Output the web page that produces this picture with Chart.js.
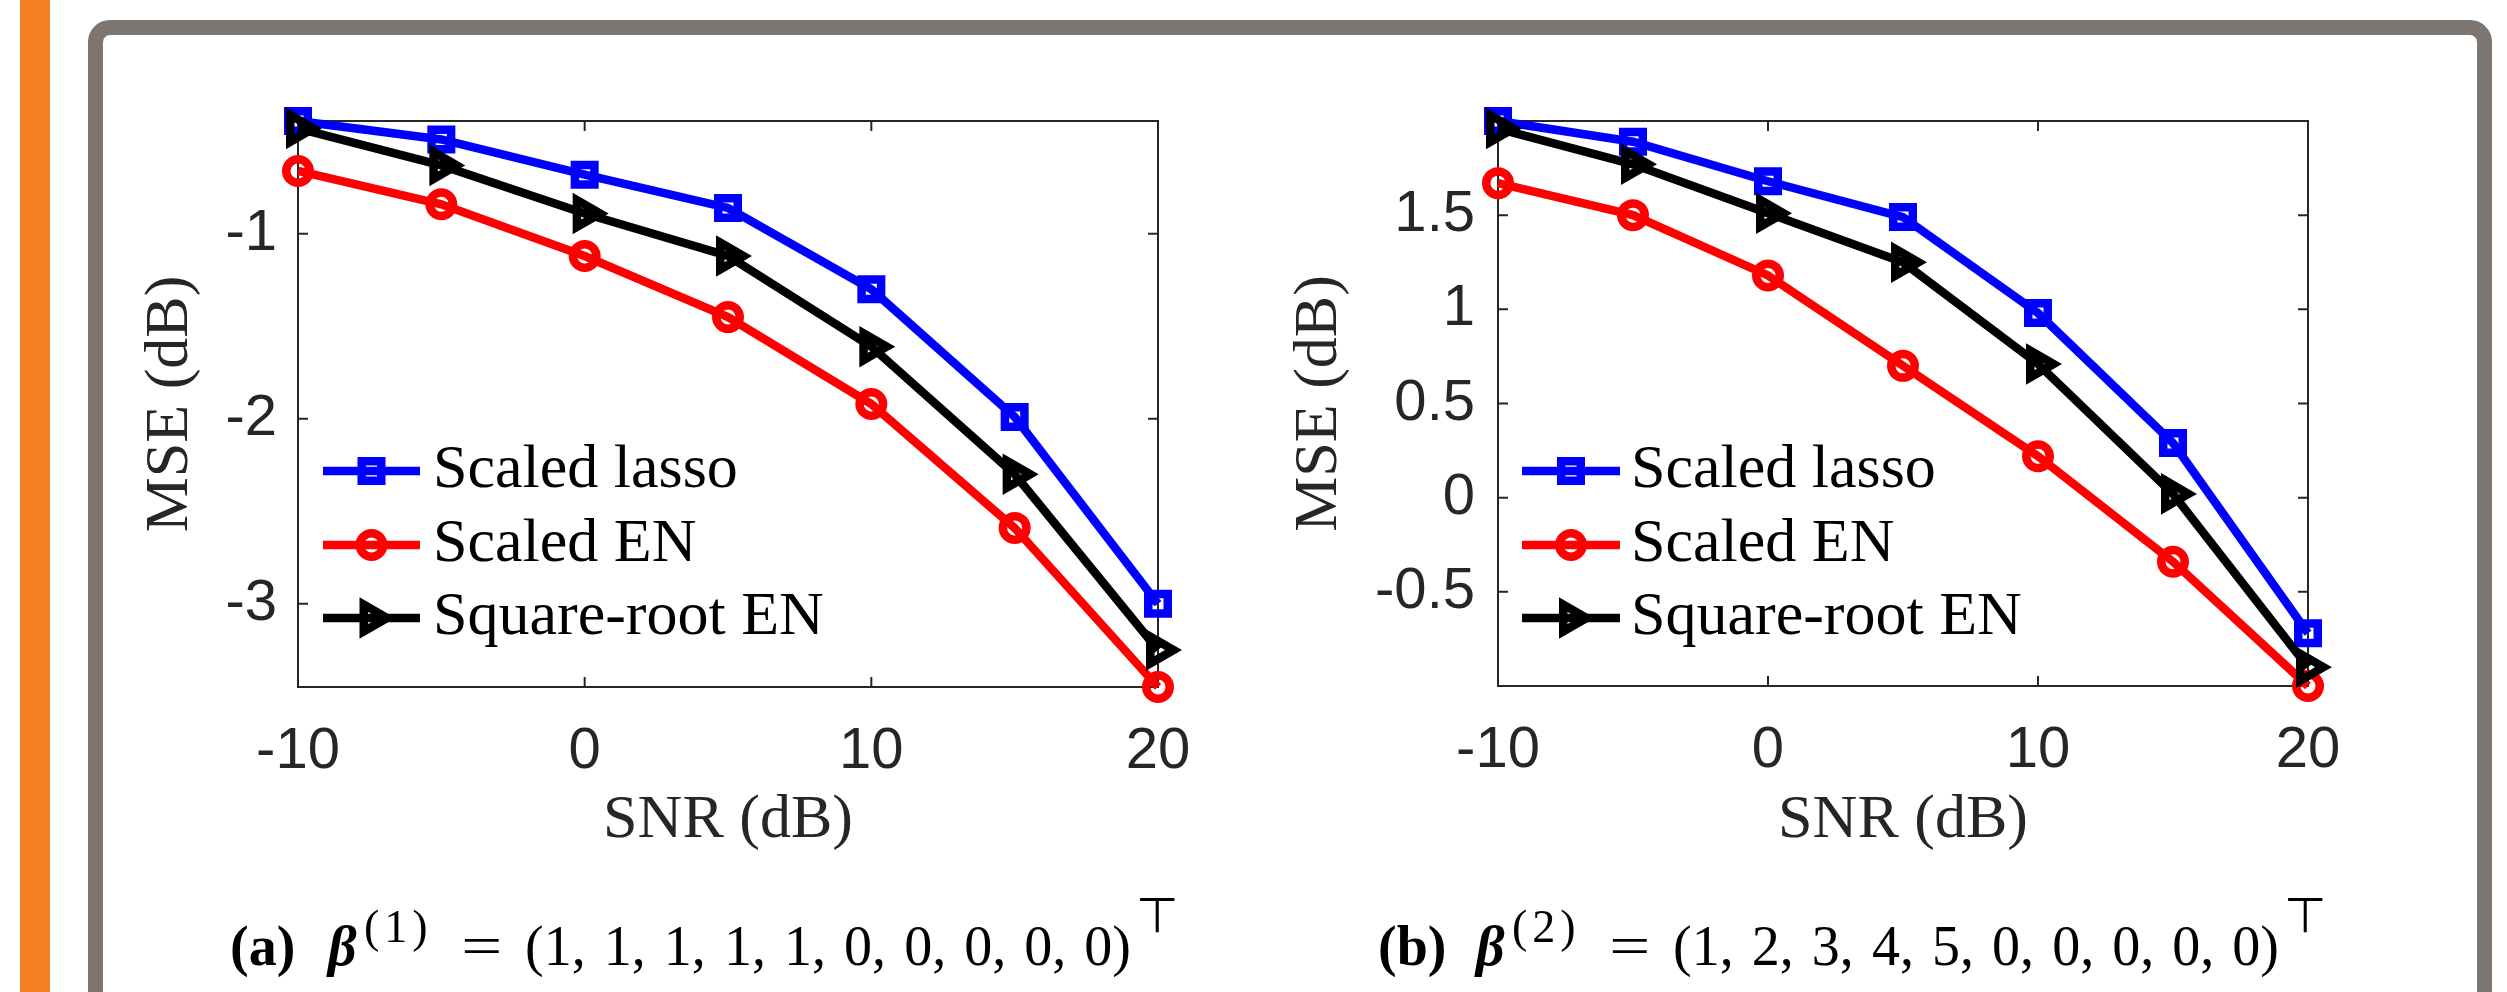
<!DOCTYPE html>
<html><head><meta charset="utf-8">
<script src="https://cdn.jsdelivr.net/npm/chart.js"></script>
<style>
html,body{margin:0;padding:0;background:#fff;}
body{width:2507px;height:992px;position:relative;overflow:hidden;}
#orange{position:absolute;left:20px;top:0;width:30px;height:992px;background:#F47F24;}
#frame{position:absolute;left:88px;top:20px;width:2404px;height:1100px;border:15px solid #7D756F;border-radius:22px;box-sizing:border-box;}
canvas{position:absolute;}
#c1{left:100px;top:40px;}
#c2{left:1250px;top:40px;}
.cap{position:absolute;top:0;height:992px;width:1000px;font-family:"Liberation Serif","Times New Roman",serif;color:#000;white-space:nowrap;}
.cap span{position:absolute;line-height:1;white-space:pre;}
.cap .lbl{left:0;top:918px;font-size:56px;font-weight:bold;}
.cap .beta{left:98px;top:918px;font-size:56px;font-weight:bold;font-style:italic;}
.cap .s1{left:134px;top:904px;font-size:46px;letter-spacing:5px;}
.cap .eq{left:236px;top:918px;font-size:56px;transform:scaleX(1.3);}
.cap .lst{left:295px;top:918px;font-size:56px;}
.cap .tp{left:910px;top:891px;font-size:49px;font-family:"DejaVu Sans",sans-serif;}
</style></head>
<body>
<div id="orange"></div>
<div id="frame"></div>
<canvas id="c1" width="1150" height="860"></canvas>
<canvas id="c2" width="1190" height="860"></canvas>
<div class="cap" style="left:230px"><span class="lbl">(a)</span><span class="beta">β</span><span class="s1">(1)</span><span class="eq">=</span><span class="lst">(1, 1, 1, 1, 1, 0, 0, 0, 0, 0)</span><span class="tp">⊤</span></div>
<div class="cap" style="left:1378px"><span class="lbl">(b)</span><span class="beta">β</span><span class="s1">(2)</span><span class="eq">=</span><span class="lst">(1, 2, 3, 4, 5, 0, 0, 0, 0, 0)</span><span class="tp">⊤</span></div>
<script>
// ---- data ----
const snr = [-10, -5, 0, 5, 10, 15, 20];
const seriesNames = ['Scaled lasso', 'Scaled EN', 'Square-root EN'];
// panel (a)
const lassoA = [-0.39, -0.49, -0.68, -0.86, -1.30, -1.99, -3.00];
const enA    = [-0.66, -0.84, -1.12, -1.45, -1.92, -2.59, -3.45];
const sqrtA  = [-0.43, -0.63, -0.89, -1.12, -1.61, -2.30, -3.25];
// panel (b)
const lassoB = [2.00, 1.89, 1.68, 1.49, 0.98, 0.29, -0.72];
const enB    = [1.67, 1.50, 1.18, 0.70, 0.22, -0.34, -1.00];
const sqrtB  = [1.96, 1.77, 1.51, 1.25, 0.71, 0.02, -0.90];
// ticks
const xTicks = [-10, 0, 10, 20];
const xTickLabels = ['-10', '0', '10', '20'];
const yTicksA = [-3, -2, -1];
const yTickLabelsA = ['-3', '-2', '-1'];
const yTicksB = [-0.5, 0, 0.5, 1, 1.5];
const yTickLabelsB = ['-0.5', '0', '0.5', '1', '1.5'];

// ---- caption fitting (list width and transpose mark placement) ----
(function fitCaptions() {
  const c = document.createElement('canvas').getContext('2d');
  document.querySelectorAll('.cap').forEach(cap => {
    const lst = cap.querySelector('.lst');
    c.font = '56px "Liberation Serif", "Times New Roman", serif';
    const txt = lst.textContent;
    const nat = c.measureText(txt).width;
    const spaces = (txt.match(/ /g) || []).length;
    const target = 606;
    lst.style.wordSpacing = ((target - nat) / spaces).toFixed(2) + 'px';
    const tp = cap.querySelector('.tp');
    c.font = '49px "DejaVu Sans", sans-serif';
    const m = c.measureText(tp.textContent);
    const inkLeft = -m.actualBoundingBoxLeft;
    tp.style.left = (910 - inkLeft) + 'px';
  });
})();

// ---- styles ----
const AXIS = '#262626';
const SANS = '"Liberation Sans", Arial, Helvetica, sans-serif';
const SERIF = '"Liberation Serif", "Times New Roman", serif';
const styles = [
  {color: '#0000FF', pointStyle: 'rect', radius: 13.8, rotation: 0, order: 2},
  {color: '#FF0000', pointStyle: 'circle', radius: 11.75, rotation: 0, order: 1},
  {color: '#000000', pointStyle: 'triangle', radius: 15.5, rotation: 90, order: 0}
];
const LW = 8.5;

function makeDatasets(list) {
  return list.map((vals, i) => ({
    label: seriesNames[i],
    data: snr.map((x, j) => ({x: x, y: vals[j]})),
    borderColor: styles[i].color,
    backgroundColor: 'rgba(0,0,0,0)',
    borderWidth: LW,
    pointStyle: styles[i].pointStyle,
    pointRadius: styles[i].radius,
    pointHoverRadius: styles[i].radius,
    pointRotation: styles[i].rotation,
    pointBorderColor: styles[i].color,
    pointBackgroundColor: 'rgba(0,0,0,0)',
    pointBorderWidth: LW,
    pointHoverBorderWidth: LW,
    tension: 0,
    fill: false,
    clip: false,
    order: styles[i].order
  }));
}

const matlabAxes = {
  id: 'matlabAxes',
  beforeDatasetsDraw(chart) {
    const {ctx, chartArea: a} = chart;
    const x = chart.scales.x, y = chart.scales.y;
    ctx.save();
    ctx.strokeStyle = AXIS;
    ctx.lineWidth = 2;
    ctx.strokeRect(a.left, a.top, a.right - a.left, a.bottom - a.top);
    ctx.beginPath();
    const L = 10;
    x.ticks.forEach(t => {
      const px = x.getPixelForValue(t.value);
      ctx.moveTo(px, a.bottom); ctx.lineTo(px, a.bottom - L);
      ctx.moveTo(px, a.top); ctx.lineTo(px, a.top + L);
    });
    y.ticks.forEach(t => {
      const py = y.getPixelForValue(t.value);
      ctx.moveTo(a.left, py); ctx.lineTo(a.left + L, py);
      ctx.moveTo(a.right, py); ctx.lineTo(a.right - L, py);
    });
    ctx.stroke();
    ctx.restore();
  }
};

const innerLegend = {
  id: 'innerLegend',
  afterDatasetsDraw(chart, args, opts) {
    const {ctx, chartArea: a} = chart;
    const rows = [350, 424, 497];
    ctx.save();
    chart.data.datasets.forEach((ds, i) => {
      const yy = a.top + rows[i];
      const x0 = a.left + opts.lineStart, x1 = a.left + opts.lineEnd;
      ctx.strokeStyle = ds.borderColor;
      ctx.lineWidth = ds.borderWidth;
      ctx.lineCap = 'butt';
      ctx.beginPath(); ctx.moveTo(x0, yy); ctx.lineTo(x1, yy); ctx.stroke();
      ctx.fillStyle = 'rgba(0,0,0,0)';
      ctx.strokeStyle = ds.pointBorderColor;
      ctx.lineWidth = ds.pointBorderWidth;
      Chart.helpers.drawPoint(ctx, {
        pointStyle: ds.pointStyle, rotation: ds.pointRotation,
        radius: ds.pointRadius, borderWidth: ds.pointBorderWidth
      }, (x0 + x1) / 2, yy);
      ctx.fillStyle = '#000';
      ctx.font = '62px ' + SERIF;
      ctx.textAlign = 'left';
      ctx.textBaseline = 'middle';
      ctx.fillText(ds.label, a.left + opts.textStart, yy);
    });
    ctx.restore();
  }
};

function makeChart(id, list, cfg) {
  return new Chart(document.getElementById(id), {
    type: 'line',
    data: {datasets: makeDatasets(list)},
    plugins: [matlabAxes, innerLegend],
    options: {
      responsive: false,
      animation: false,
      devicePixelRatio: 1,
      events: [],
      layout: {padding: {left: 0, top: 81, right: cfg.padRight, bottom: 0}},
      plugins: {
        legend: {display: false},
        tooltip: {enabled: false},
        innerLegend: {lineStart: cfg.legLine[0], lineEnd: cfg.legLine[1], textStart: cfg.legText}
      },
      scales: {
        x: {
          type: 'linear', min: xTicks[0], max: xTicks[xTicks.length - 1],
          afterBuildTicks: s => { s.ticks = xTicks.map(v => ({value: v})); },
          afterFit: s => { s.height = cfg.xH; s.paddingLeft = 0; s.paddingRight = 0; },
          grid: {display: false, drawTicks: false},
          border: {display: false},
          ticks: {
            autoSkip: false, maxRotation: 0, minRotation: 0, padding: 30,
            color: AXIS, font: {family: SANS, size: 58},
            callback: (v, i) => xTickLabels[i]
          },
          title: {display: true, text: 'SNR (dB)', color: AXIS,
                  font: {family: SERIF, size: 62}, padding: {top: 0, bottom: 42}}
        },
        y: {
          type: 'linear', min: cfg.ymin, max: cfg.ymax,
          afterBuildTicks: s => { s.ticks = cfg.yTicks.map(v => ({value: v})); },
          afterFit: s => { s.width = cfg.yW; s.paddingTop = 0; s.paddingBottom = 0; },
          grid: {display: false, drawTicks: false},
          border: {display: false},
          ticks: {
            autoSkip: false, padding: cfg.yTickPad,
            color: AXIS, font: {family: SANS, size: 58},
            callback: (v, i) => cfg.yLabels[i]
          },
          title: {display: true, text: 'MSE (dB)', color: AXIS,
                  font: {family: SERIF, size: 62}, padding: {top: cfg.yTitlePad, bottom: 0}}
        }
      }
    }
  });
}

const allA = [lassoA, enA, sqrtA];
const allB = [lassoB, enB, sqrtB];
makeChart('c1', allA, {
  ymin: Math.min(...enA), ymax: Math.max(...lassoA),
  yTicks: yTicksA, yLabels: yTickLabelsA,
  yW: 198, xH: 213, padRight: 92, yTitlePad: 34, yTickPad: 21,
  legLine: [25, 122], legText: 135
});
makeChart('c2', allB, {
  ymin: Math.min(...enB), ymax: Math.max(...lassoB),
  yTicks: yTicksB, yLabels: yTickLabelsB,
  yW: 248, xH: 214, padRight: 132, yTitlePad: 33, yTickPad: 23,
  legLine: [24, 122], legText: 133
});
</script>
</body></html>
